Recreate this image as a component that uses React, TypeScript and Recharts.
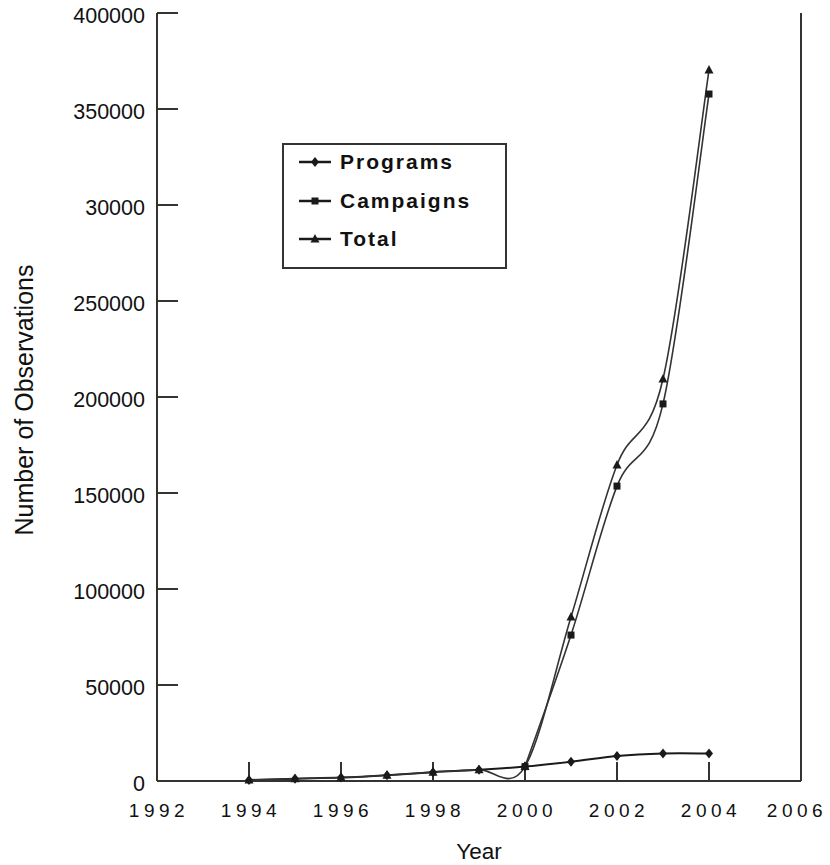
import React from 'react';
import { LineChart, Line, XAxis, YAxis, Legend } from 'recharts';

const years = [1994, 1995, 1996, 1997, 1998, 1999, 2000, 2001, 2002, 2003, 2004];
const programs = [500, 1200, 1800, 3000, 4600, 5800, 7500, 10000, 13000, 14300, 14300];
const campaigns = [null, null, null, null, null, null, 7500, 76000, 153600, 196400, 357800];
const total = [500, 1200, 1800, 3000, 4600, 5800, 7500, 85400, 164600, 209400, 370300];

const seriesNames = ['Programs', 'Campaigns', 'Total'];
const markerKinds = ['diamond', 'square', 'triangle'];

const xTicks = [1992, 1994, 1996, 1998, 2000, 2002, 2004, 2006];
const yTicks = [0, 50000, 100000, 150000, 200000, 250000, 300000, 350000, 400000];
// the original figure really prints "30000" at the 300000 tick
const yTickLabels = ['0', '50000', '100000', '150000', '200000', '250000', '30000', '350000', '400000'];

const data = years.map((year, i) => ({
  year,
  programs: programs[i],
  campaigns: campaigns[i],
  total: total[i],
}));

const FONT = '"Liberation Sans", Arial, Helvetica, sans-serif';
const INK = '#1a1a1a';
const AXIS = '#333';
const CURVE = '#333';

// Catmull-Rom style smoothing (only bends locally, like the original plot)
const smoothCurve = (context: any) => {
  let pts: number[][] = [];
  return {
    areaStart() {},
    areaEnd() {},
    lineStart() {
      pts = [];
    },
    point(x: number, y: number) {
      pts.push([+x, +y]);
    },
    lineEnd() {
      const n = pts.length;
      if (!n) return;
      context.moveTo(pts[0][0], pts[0][1]);
      for (let i = 0; i < n - 1; i++) {
        const p0 = pts[i - 1] || pts[i];
        const p1 = pts[i];
        const p2 = pts[i + 1];
        const p3 = pts[i + 2] || p2;
        context.bezierCurveTo(
          p1[0] + (p2[0] - p0[0]) / 6,
          p1[1] + (p2[1] - p0[1]) / 6,
          p2[0] - (p3[0] - p1[0]) / 6,
          p2[1] - (p3[1] - p1[1]) / 6,
          p2[0],
          p2[1],
        );
      }
    },
  };
};

const Marker = ({ kind, cx, cy }: any) => {
  if (cx == null || cy == null || isNaN(cy)) return <g />;
  if (kind === 'diamond') {
    return <polygon points={`${cx},${cy - 5} ${cx + 4},${cy} ${cx},${cy + 5} ${cx - 4},${cy}`} fill={INK} />;
  }
  if (kind === 'square') {
    return <rect x={cx - 3.5} y={cy - 3.5} width={7} height={7} fill={INK} />;
  }
  return <polygon points={`${cx},${cy - 5} ${cx + 4.5},${cy + 3.5} ${cx - 4.5},${cy + 3.5}`} fill={INK} />;
};

const dotFor = (kind: string) => (p: any) => (
  <Marker key={`${kind}-${p.index}`} kind={kind} cx={p.cx} cy={p.cy} />
);

const XTick = ({ x, y, payload }: any) => (
  <text
    x={Math.min(x + 2, 797)}
    y={y}
    dy="0.71em"
    textAnchor="middle"
    fontFamily={FONT}
    fontSize={19}
    letterSpacing={4.5}
    fill="#111"
  >
    {payload.value}
  </text>
);

const YTick = ({ x, y, payload }: any) => {
  const idx = yTicks.indexOf(payload.value);
  return (
    <text x={x} y={y + 2} dy="0.36em" textAnchor="end" fontFamily={FONT} fontSize={21.5} fill="#111">
      {idx >= 0 ? yTickLabels[idx] : payload.value}
    </text>
  );
};

const LegendBox = () => (
  <div
    style={{
      width: 225,
      height: 126,
      boxSizing: 'border-box',
      border: `2px solid ${AXIS}`,
      background: '#fff',
      position: 'relative',
    }}
  >
    {seriesNames.map((name, i) => (
      <div
        key={name}
        style={{
          position: 'absolute',
          left: 14,
          top: 3 + i * 38.5,
          height: 28,
          display: 'flex',
          alignItems: 'center',
          whiteSpace: 'nowrap',
        }}
      >
        <svg width={34} height={14} style={{ display: 'block' }}>
          <line x1={1} x2={33} y1={7} y2={7} stroke={INK} strokeWidth={2.5} />
          <Marker kind={markerKinds[i]} cx={17} cy={7} />
        </svg>
        <span
          style={{
            marginLeft: 8,
            fontFamily: FONT,
            fontWeight: 'bold',
            fontSize: 21,
            letterSpacing: 2,
            color: '#111',
            lineHeight: '28px',
          }}
        >
          {name}
        </span>
      </div>
    ))}
  </div>
);

export default function App() {
  return (
    <div style={{ position: 'absolute', left: 0, top: 0, width: 830, height: 865, background: '#fff' }}>
      <LineChart width={830} height={865} data={data} margin={{ top: 13, right: 0, bottom: 0, left: 0 }}>
        <XAxis
          dataKey="year"
          type="number"
          domain={[1992, 2006]}
          ticks={xTicks}
          interval={0}
          height={84}
          axisLine={{ stroke: AXIS, strokeWidth: 2 }}
          tickLine={{ stroke: AXIS, strokeWidth: 2 }}
          tickSize={-19}
          tickMargin={42}
          tick={<XTick />}
          label={{
            content: (p: any) => {
              const vb = p.viewBox;
              return (
                <text x={vb.x + vb.width / 2} y={859} textAnchor="middle" fontFamily={FONT} fontSize={22.5} fill="#111">
                  Year
                </text>
              );
            },
          }}
        />
        <XAxis
          xAxisId="top"
          orientation="top"
          dataKey="year"
          type="number"
          domain={[1992, 2006]}
          height={0}
          tick={false}
          tickLine={false}
          axisLine={{ stroke: AXIS, strokeWidth: 2 }}
        />
        <YAxis
          type="number"
          domain={[0, 400000]}
          ticks={yTicks}
          interval={0}
          width={157}
          axisLine={{ stroke: AXIS, strokeWidth: 2 }}
          tickLine={{ stroke: AXIS, strokeWidth: 2 }}
          tickSize={-21}
          tickMargin={33}
          tick={<YTick />}
          label={{
            content: (p: any) => {
              const vb = p.viewBox;
              const cy = vb.y + vb.height / 2 + 3;
              return (
                <text
                  x={24}
                  y={cy}
                  transform={`rotate(-90 24 ${cy})`}
                  textAnchor="middle"
                  dominantBaseline="central"
                  fontFamily={FONT}
                  fontSize={25}
                  fill="#111"
                >
                  Number of Observations
                </text>
              );
            },
          }}
        />
        <YAxis
          yAxisId="right"
          orientation="right"
          type="number"
          domain={[0, 400000]}
          ticks={yTicks}
          interval={0}
          width={29}
          axisLine={{ stroke: AXIS, strokeWidth: 2 }}
          tickLine={{ stroke: AXIS, strokeWidth: 2 }}
          tickSize={-21}
          tickFormatter={() => ''}
        />
        <Legend
          layout="vertical"
          align="center"
          verticalAlign="middle"
          wrapperStyle={{ left: 282, top: 143, width: 225, height: 126 }}
          content={() => <LegendBox />}
        />
        <Line
          type={smoothCurve as any}
          dataKey="programs"
          name={seriesNames[0]}
          stroke={INK}
          strokeWidth={2}
          dot={dotFor('diamond')}
          activeDot={false}
          isAnimationActive={false}
        />
        <Line
          type={smoothCurve as any}
          dataKey="campaigns"
          name={seriesNames[1]}
          stroke={CURVE}
          strokeWidth={1.6}
          dot={dotFor('square')}
          activeDot={false}
          isAnimationActive={false}
        />
        <Line
          type={smoothCurve as any}
          dataKey="total"
          name={seriesNames[2]}
          stroke={CURVE}
          strokeWidth={1.6}
          dot={dotFor('triangle')}
          activeDot={false}
          isAnimationActive={false}
        />
      </LineChart>
    </div>
  );
}
